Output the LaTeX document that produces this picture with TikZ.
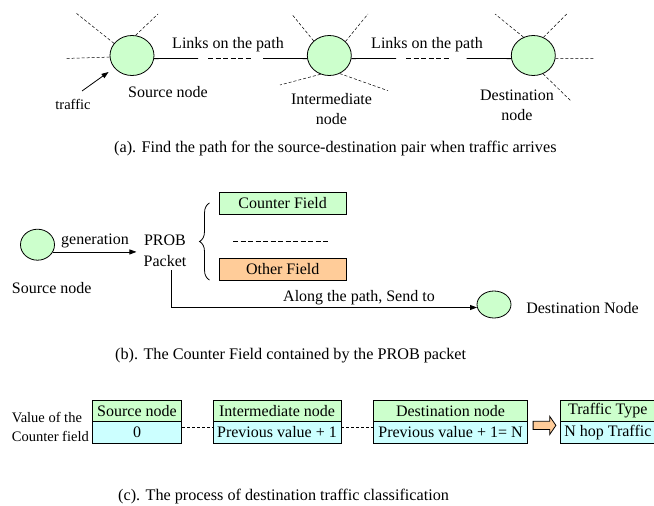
\documentclass[tikz,border=0pt]{standalone}
\usepackage{fontspec}
\setmainfont{Liberation Serif}
\usetikzlibrary{shapes.geometric,arrows.meta,decorations.pathreplacing,calc}

\definecolor{nodegreen}{HTML}{CCFFCC}
\definecolor{fieldcyan}{HTML}{CCFFFF}
\definecolor{fieldorange}{HTML}{FFCC99}

\begin{document}
\begin{tikzpicture}[x=1pt,y=-1pt,
  every node/.style={font=\fontsize{16}{20.5}\selectfont},
  router/.style={ellipse, draw, fill=nodegreen, inner sep=0pt, line width=0.8pt},
  stub/.style={dash pattern=on 3pt off 2pt, line width=0.5pt},
  gapdash/.style={dash pattern=on 5pt off 2.5pt, line width=0.6pt},
  link/.style={line width=0.8pt},
  tip/.style={-{Triangle[length=7pt,width=5pt]}, line width=0.8pt},
  fieldbox/.style={draw, line width=0.8pt, inner sep=0pt, minimum height=21.5pt},
  caption/.style={font=\fontsize{16.2}{19.5}\selectfont, anchor=west, inner sep=0pt},
  small/.style={font=\fontsize{14.5}{18.7}\selectfont}
]
\useasboundingbox (0,0) rectangle (654,506);

% ---------- (a) path from source to destination ----------
\node[router, minimum width=44pt, minimum height=40pt] (src) at (132,55.5) {};
\node[router, minimum width=44pt, minimum height=40pt] (mid) at (329.3,55.5) {};
\node[router, minimum width=44pt, minimum height=40pt] (dst) at (533.3,55.5) {};

% links with a gap in the middle
\coordinate (l1a) at (198,58.5);
\coordinate (l1b) at (208,58.5);
\coordinate (l1c) at (252,58.5);
\coordinate (l1d) at (263,58.5);
\draw[link] (src.-8) -- (l1a);
\draw[gapdash] (l1b) -- (l1c);
\draw[link] (l1d) -- (mid.188);

\coordinate (l2a) at (396,58.5);
\coordinate (l2b) at (406,58.5);
\coordinate (l2c) at (450,58.5);
\coordinate (l2d) at (466.7,58.5);
\draw[link] (mid.-8) -- (l2a);
\draw[gapdash] (l2b) -- (l2c);
\draw[link] (l2d) -- (dst.188);

% other links around each node
\coordinate (s1) at (65,58.5);
\coordinate (s2) at (76,13);
\coordinate (s3) at (158,14);
\draw[stub] (src.184) -- (s1);
\draw[stub] (src.146) -- (s2);
\draw[stub] (src.80) -- (s3);

\coordinate (m1) at (291.7,14);
\coordinate (m2) at (368,14);
\coordinate (m3) at (280,85);
\coordinate (m4) at (388,90.7);
\draw[stub] (mid.137) -- (m1);
\draw[stub] (mid.41) -- (m2);
\draw[stub] (mid.245) -- (m3);
\draw[stub] (mid.300) -- (m4);

\coordinate (d1) at (495,14);
\coordinate (d2) at (566.7,14);
\coordinate (d3) at (595,58.5);
\coordinate (d4) at (571.7,101.7);
\draw[stub] (dst.118) -- (d1);
\draw[stub] (dst.61) -- (d2);
\draw[stub] (dst.-8) -- (d3);
\draw[stub] (dst.298) -- (d4);

% incoming traffic
\coordinate (trf) at (82,91);
\draw[tip, shorten >=7pt] (trf) -- (src.215);

\node (lk1) at (228,45) {Links on the path};
\node (lk2) at (427,45) {Links on the path};
\node (srcl) at (168,92.5) {Source node};
\node[small] (trfl) at (73,104) {traffic};
\node[align=center] (midl) at (331.5,108.8) {Intermediate\\node};
\node[align=center] (dstl) at (517,105.5) {Destination\\node};

\node[caption] (capa) at (114,149) {(a). Find the path for the source-destination pair when traffic arrives};

% ---------- (b) PROB packet ----------
\node[router, minimum width=34pt, minimum height=31pt] (src2) at (37.5,244.7) {};
\node[align=center, inner xsep=7pt] (prob) at (165,251) {PROB\\Packet};
\draw[tip] (src2.-25) -- (src2.-25 -| prob.west);
\node (genl) at (95,241) {generation};
\node (src2l) at (51.7,288.3) {Source node};

\node[fieldbox, fill=nodegreen, minimum width=126.7pt, minimum height=22pt] (cf) at (282.7,203.3) {Counter Field};
\node[fieldbox, fill=fieldorange, minimum width=126.7pt, minimum height=21.3pt] (of) at (282.7,269.3) {Other Field};
\coordinate (sepA) at (233,241.7);
\coordinate (sepB) at (330,241.7);
\draw[gapdash] (sepA) -- (sepB);

\coordinate (brB) at (209.5,280);
\coordinate (brT) at (209.5,203);
\draw[line width=0.8pt, decorate, decoration={brace, amplitude=10pt}] (brB) -- (brT);

\node[router, minimum width=34pt, minimum height=27pt] (dst2) at (494,304.5) {};
\draw[tip] ([xshift=6pt]prob.south) |- (dst2.190);
\node (alongl) at (359,298) {Along the path, Send to};
\node (dst2l) at (582.5,307.7) {Destination Node};

\node[caption] (capb) at (115,356) {(b). The Counter Field contained by the PROB packet};

% ---------- (c) counter values along the path ----------
\node[small, anchor=west, align=left, inner sep=0pt] (vall) at (11.7,427.3) {Value of the\\Counter field};

\node[fieldbox, fill=nodegreen, minimum width=89.4pt] (b1t) at (137,410.75) {Source node};
\node[fieldbox, fill=fieldcyan, minimum width=89.4pt] (b1b) at (137,432.25) {0};

\node[fieldbox, fill=nodegreen, minimum width=128pt] (b2t) at (277,410.75) {Intermediate node};
\node[fieldbox, fill=fieldcyan, minimum width=128pt] (b2b) at (277,432.25) {Previous value + 1};

\node[fieldbox, fill=nodegreen, minimum width=154.4pt] (b3t) at (450.5,410.75) {Destination node};
\node[fieldbox, fill=fieldcyan, minimum width=154.4pt] (b3b) at (450.5,432.25) {Previous value + 1= N};

\node[fieldbox, fill=nodegreen, minimum width=94.3pt] (b4t) at (607.85,410.75) {Traffic Type};
\node[fieldbox, fill=fieldcyan, minimum width=94.3pt] (b4b) at (607.85,432.25) {N hop Traffic};

\draw[stub] ([yshift=5pt]b1b.east) -- ([yshift=5pt]b2b.west);
\draw[stub] ([yshift=5pt]b2b.east) -- ([yshift=5pt]b3b.west);

% block arrow into the classification
\draw[fill=fieldorange, line width=0.8pt]
  ($(b3b.north east)+(5,0.2)$) -- ++(16.6,0) -- ++(0,-5) -- ++(6.2,9.1)
  -- ++(-6.2,9.1) -- ++(0,-5) -- ++(-16.6,0) -- cycle;

\node[caption] (capc) at (118,497) {(c). The process of destination traffic classification};
\end{tikzpicture}
\end{document}
